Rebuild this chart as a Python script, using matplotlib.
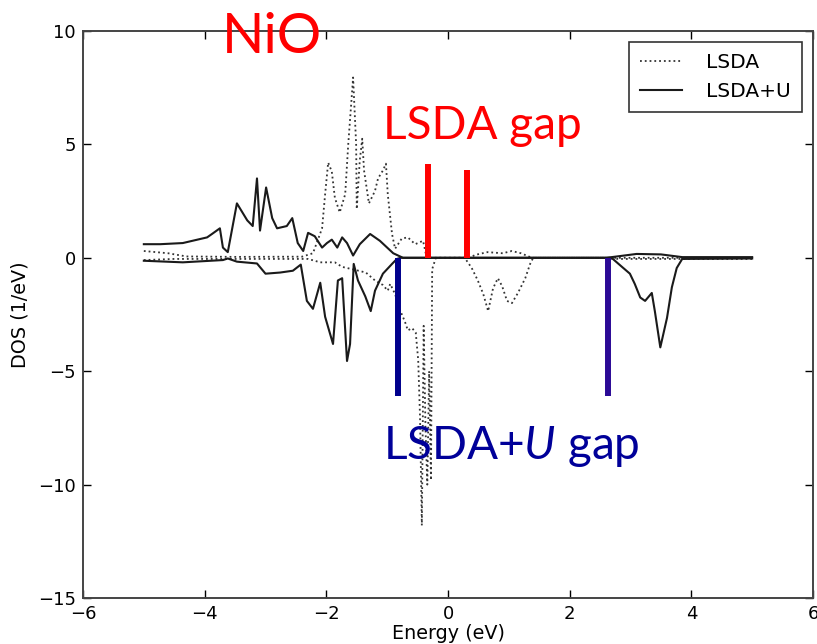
import matplotlib.pyplot as plt

# LSDA+U, spin up (eV, 1/eV)
u_up_e = [-5.0, -4.73, -4.36, -3.96, -3.88, -3.75, -3.70, -3.62, -3.47, -3.30,
          -3.21, -3.14, -3.09, -2.99, -2.89, -2.81, -2.65, -2.56, -2.47, -2.38,
          -2.30, -2.19, -2.07, -1.99, -1.91, -1.82, -1.74, -1.66, -1.56, -1.45,
          -1.28, -1.12, -0.90, -0.74, 2.6, 2.75, 3.1, 3.5, 3.85, 5.0]
u_up = [0.6, 0.6, 0.65, 0.9, 1.05, 1.3, 0.45, 0.25, 2.4, 1.65,
        1.4, 3.5, 1.2, 3.1, 1.75, 1.3, 1.4, 1.75, 0.65, 0.3,
        1.1, 0.95, 0.45, 0.65, 0.8, 0.45, 0.9, 0.65, 0.1, 0.6,
        1.05, 0.75, 0.2, 0.0, 0.0, 0.05, 0.17, 0.15, 0.03, 0.03]

# LSDA+U, spin down
u_dn_e = [-5.0, -4.36, -3.70, -3.62, -3.47, -3.14, -3.0, -2.76, -2.55, -2.42,
          -2.32, -2.22, -2.10, -2.02, -1.89, -1.81, -1.74, -1.66, -1.61, -1.55,
          -1.48, -1.36, -1.27, -1.20, -1.07, -0.92, -0.84, -0.78, 2.65, 2.71,
          2.86, 2.99, 3.07, 3.16, 3.24, 3.35, 3.40, 3.49, 3.60, 3.68,
          3.76, 3.85, 5.0]
u_dn = [-0.13, -0.2, -0.1, -0.03, -0.17, -0.25, -0.7, -0.65, -0.57, -0.3,
        -1.9, -2.25, -1.1, -2.6, -3.8, -1.0, -0.9, -4.55, -3.8, -0.27,
        -1.0, -1.7, -2.35, -1.45, -0.7, -0.27, -0.05, 0.0, 0.0, -0.05,
        -0.4, -0.7, -1.15, -1.75, -1.9, -1.55, -2.35, -3.95, -2.65, -1.3,
        -0.45, -0.05, -0.03]

# LSDA, spin up
l_up_e = [-5.0, -4.6, -4.3, -3.5, -2.4, -2.22, -2.07, -2.02, -1.97, -1.91,
          -1.86, -1.78, -1.69, -1.64, -1.58, -1.56, -1.51, -1.50, -1.45, -1.41,
          -1.38, -1.30, -1.20, -1.15, -1.07, -1.02, -0.99, -0.92, -0.87, -0.76,
          -0.66, -0.54, -0.41, -0.35, 0.35, 0.45, 0.65, 0.9, 1.05, 1.2,
          1.38, 2.6, 5.0]
l_up = [0.3, 0.2, 0.06, 0.04, 0.05, 0.2, 1.3, 2.8, 4.2, 3.8,
        2.65, 2.0, 2.8, 5.0, 7.2, 7.95, 5.0, 2.15, 4.3, 5.25,
        3.85, 2.4, 2.95, 3.5, 3.85, 4.15, 2.8, 1.05, 0.4, 0.85,
        0.9, 0.6, 0.75, 0.0, 0.0, 0.13, 0.25, 0.2, 0.3, 0.2,
        0.0, 0.0, 0.0]

# LSDA, spin down
l_dn_e = [-5.0, -4.5, -2.3, -2.1, -1.86, -1.74, -1.5, -1.35, -1.2, -1.07,
          -0.99, -0.95, -0.87, -0.79, -0.71, -0.66, -0.59, -0.53, -0.49, -0.46,
          -0.43, -0.40, -0.37, -0.34, -0.31, -0.28, -0.26, -0.2, 0.28, 0.3,
          0.39, 0.49, 0.58, 0.66, 0.74, 0.82, 0.89, 0.97, 1.05, 1.15,
          1.27, 1.35, 1.40, 2.6, 2.8, 5.0]
l_dn = [-0.1, -0.05, -0.05, -0.2, -0.2, -0.4, -0.55, -0.65, -1.0, -1.2,
        -1.45, -1.15, -1.6, -2.3, -2.8, -3.2, -3.1, -3.3, -4.5, -7.0,
        -11.8, -3.0, -7.5, -10.0, -5.0, -9.8, -0.5, 0.0, 0.0, -0.1,
        -0.45, -1.0, -1.6, -2.35, -1.35, -0.9, -1.25, -1.9, -2.0, -1.55,
        -0.9, -0.27, 0.0, 0.0, -0.05, -0.05]

# gap markers
lsda_gap_x = [-0.33, 0.31]
lsda_gap_top = [4.15, 3.85]
lsdau_gap_x = [-0.82, 2.63]
lsdau_gap_bottom = [-6.1, -6.1]

plt.rcParams['mathtext.fontset'] = 'custom'
plt.rcParams['mathtext.rm'] = 'Lato'
plt.rcParams['mathtext.it'] = 'Lato:italic'

fig = plt.figure(figsize=(8.17, 6.44), dpi=100)
ax = fig.add_axes([83 / 817, 1 - 598 / 644, 730 / 817, 567 / 644])

ax.plot(l_up_e, l_up, ':', color='#333333', lw=1.3, label='LSDA')
ax.plot(l_dn_e, l_dn, ':', color='#333333', lw=1.3)
ax.plot(u_up_e, u_up, '-', color='#1a1a1a', lw=1.5, label='LSDA+U')
ax.plot(u_dn_e, u_dn, '-', color='#1a1a1a', lw=1.5)

ax.vlines(lsda_gap_x, 0, lsda_gap_top, color='#ff0000', lw=4.3, zorder=5)
ax.vlines(lsdau_gap_x, lsdau_gap_bottom, 0, color=['#00008c', '#2b0a96'],
          lw=4.3, zorder=5)

ax.set_xlim(-6, 6)
ax.set_ylim(-15, 10)
ax.set_xticks([-6, -4, -2, 0, 2, 4, 6])
ax.set_yticks([-15, -10, -5, 0, 5, 10])
ax.tick_params(direction='in', top=True, right=True, length=6, width=1,
               labelsize=13, pad=5)
for s in ax.spines.values():
    s.set_color('#444444')
    s.set_linewidth(1.4)
ax.set_xlabel('Energy (eV)', fontsize=13.8, labelpad=1)
ax.set_ylabel('DOS (1/eV)', fontsize=13.8, labelpad=6)

leg = ax.legend(loc='upper right', fontsize=14.5, fancybox=False,
                edgecolor='#333333', framealpha=1, handlelength=2.1,
                handletextpad=1.2, borderpad=0.55, labelspacing=0.5,
                borderaxespad=0.55)
leg.get_frame().set_linewidth(1.2)

ax.text(-3.72, 9.04, 'NiO', color='#ff0000', fontsize=40,
        family='Lato', va='baseline', ha='left')
ax.text(-1.07, 5.25, 'LSDA gap', color='#ff0000', fontsize=33,
        family='Lato', va='baseline', ha='left')
ax.text(-1.07, -8.86, 'LSDA+$\\mathit{U}$ gap', color='#000099', fontsize=33,
        family='Lato', va='baseline', ha='left')

fig.savefig('out.png', dpi=100)
